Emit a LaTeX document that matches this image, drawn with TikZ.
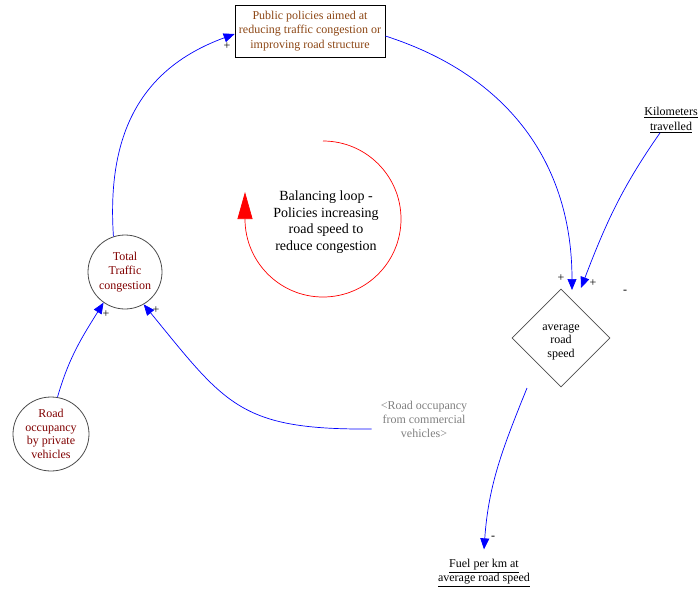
\documentclass[tikz,border=0pt]{standalone}
\usepackage{fontspec}
\setmainfont{Liberation Serif}
\usetikzlibrary{arrows.meta,shapes.geometric}
\definecolor{brownt}{RGB}{140,70,20}
\definecolor{maroont}{RGB}{128,0,0}
\definecolor{greyt}{RGB}{128,128,128}
\definecolor{linkblue}{RGB}{0,0,255}
\begin{document}
\begin{tikzpicture}[x=1pt,y=1pt,
  txt/.style={font=\fontsize{12}{14.5}\selectfont, align=center, inner sep=0pt},
  varcircle/.style={ellipse, draw=black!70, line width=0.8pt, minimum width=74pt, minimum height=74pt, inner sep=0pt, txt, text=maroont},
  link/.style={draw=linkblue, line width=0.7pt, -{Triangle[length=11pt,width=9pt]}},
  pol/.style={font=\fontsize{12}{12}\selectfont, inner sep=0pt}
]
\useasboundingbox (0,0) rectangle (699,-590);

% nodes
\node[draw=black, line width=0.7pt, rectangle, minimum width=150pt, minimum height=52pt, txt, text=brownt] (box) at (310,-31) {Public policies aimed at\\reducing traffic congestion or\\improving road structure};
\node[varcircle] (ttc) at (125,-272) {Total\\Traffic\\congestion};
\node[varcircle, minimum width=76pt, minimum height=74pt, font=\fontsize{12}{13.5}\selectfont] (ppv) at (51,-434) {Road\\occupancy\\by private\\vehicles};
\node[diamond, draw=black!70, line width=0.8pt, minimum width=98pt, minimum height=98pt, inner sep=0pt] (dia) at (561,-338) {};
\node[txt, font=\fontsize{12}{13.5}\selectfont] (diatext) at (561,-342) {average\\road\\speed};
\node[txt, font=\fontsize{12}{15}\selectfont] (km) at (671,-120) {\underline{Kilometers}\\\underline{travelled}};
\node[txt, font=\fontsize{12}{14}\selectfont] (fuel) at (484,-573) {\underline{Fuel per km at}\\\underline{average road speed}};
\node[txt, text=greyt, font=\fontsize{12}{14}\selectfont] (comm) at (424,-419) {<Road occupancy\\from commercial\\vehicles>};
\node[txt, font=\fontsize{14}{16.5}\selectfont] (bal) at (326,-222) {Balancing loop -\\Policies increasing\\road speed to\\reduce congestion};

% loop symbol
\draw[red, line width=0.7pt, -{Triangle[length=27pt,width=15pt]}] (323,-141) arc[start angle=90, end angle=-180, radius=78] -- ++(0,27);

% connectors
\coordinate (diatopA) at (572,-290);
\coordinate (diatopB) at (581,-288);
\coordinate (fuelstart) at (527,-388);
\draw[link] (ttc.108) .. controls (107,-140) and (136,-70) .. ([yshift=-3pt]box.west);
\draw[link] ([yshift=-5pt]box.east) .. controls (510,-76) and (572,-165) .. (diatopA);
\draw[link] ([xshift=-11pt]km.south) to[out=-125, in=69] (diatopB);
\draw[link] (ppv.80) to[out=74, in=-122] (ttc.235);
\draw[link] ([xshift=-9pt,yshift=-10pt]comm.west) .. controls (240,-430) and (226,-405) .. (ttc.-60);
\draw[link] (fuelstart) to[out=-112, in=86] ([yshift=10pt]fuel.north);

% polarities
\node[pol] (p1) at (227,-46) {+};
\node[pol] (p2) at (561,-278) {+};
\node[pol] (p3) at (593,-283) {+};
\node[pol] (p4) at (625,-292) {-};
\node[pol] (p5) at (106,-314) {+};
\node[pol] (p6) at (156,-310) {+};
\node[pol] (p7) at (493,-538) {-};
\end{tikzpicture}
\end{document}
